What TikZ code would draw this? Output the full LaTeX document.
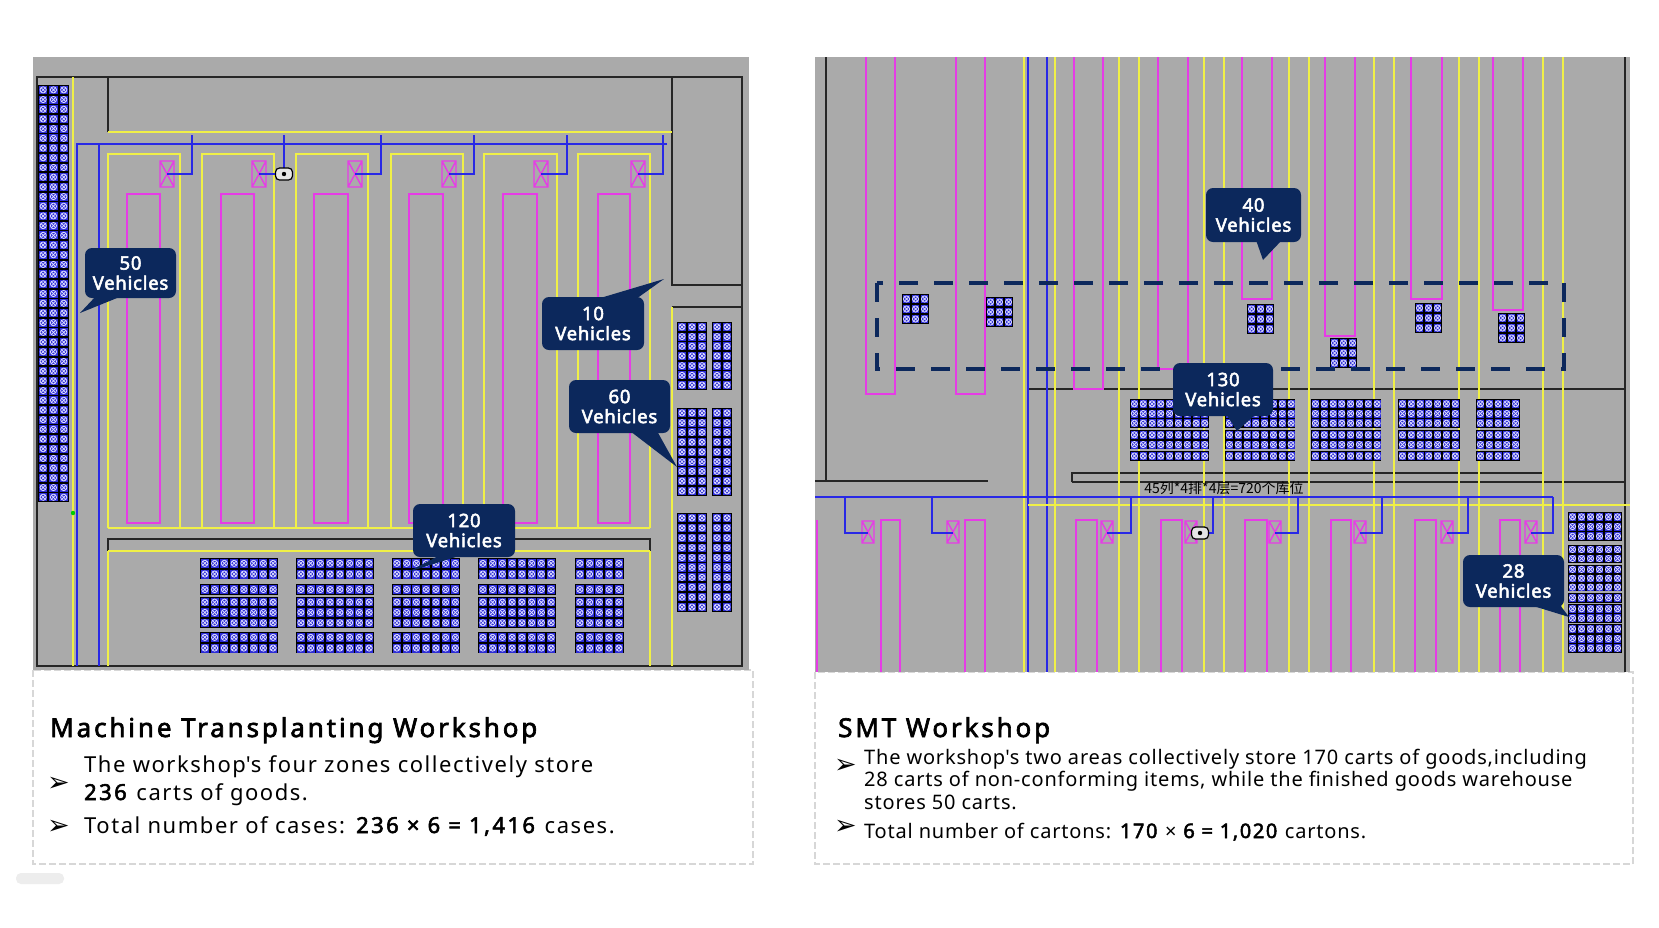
\documentclass[tikz,border=0pt]{standalone}
\usepackage{fontspec}
\setmainfont{Noto Sans}
\newfontfamily\bodyL[LetterSpace=7,BoldFont={Noto Sans},BoldFeatures={FakeBold=2.5,LetterSpace=11}]{Noto Sans}
\newfontfamily\bodyR[LetterSpace=4,BoldFont={Noto Sans},BoldFeatures={FakeBold=2.5,LetterSpace=8}]{Noto Sans}
\newfontfamily\titlef[LetterSpace=11,FakeBold=2.5]{Noto Sans}
\newfontfamily\tagf[LetterSpace=4,FakeBold=2.8]{Noto Sans}
\newfontfamily\cjkf{Noto Sans CJK SC}
\newfontfamily\dejavu{DejaVu Sans}
\definecolor{panel}{RGB}{170,170,170}
\definecolor{ylw}{RGB}{240,240,70}
\definecolor{mag}{RGB}{230,60,230}
\definecolor{blu}{RGB}{40,40,230}
\definecolor{navy}{RGB}{12,40,92}
\definecolor{cellb}{RGB}{45,45,215}
\definecolor{ring}{RGB}{225,225,255}
\definecolor{boxgray}{RGB}{215,215,215}
% storage block: x0, y0, cols, rows, cell w, cell h
\newcommand\stor[6]{%
  \fill[black] (#1,#2) rectangle ({#1+#3*#5},{#2+#4*#6});
  \foreach \ci in {1,...,#3}{\foreach \rj in {1,...,#4}{%
    \pgfmathsetmacro\cx{#1+(\ci-0.5)*#5}%
    \pgfmathsetmacro\cy{#2+(\rj-0.5)*#6}%
    \fill[cellb] ({\cx-#5/2+0.9},{\cy-#6/2+0.9}) rectangle ({\cx+#5/2-0.9},{\cy+#6/2-0.9});
    \draw[ring,line width=0.75pt] (\cx,\cy) circle (3.1pt);
    \draw[ring,line width=0.7pt] ({\cx-2.1},{\cy-2.1})--({\cx+2.1},{\cy+2.1}) ({\cx-2.1},{\cy+2.1})--({\cx+2.1},{\cy-2.1});
  }}}
\tikzset{
  yline/.style={draw=ylw,line width=1.4pt},
  mline/.style={draw=mag,line width=1.4pt},
  bline/.style={draw=blu,line width=1.4pt},
  kline/.style={draw=black!85,line width=1.4pt},
  tagbox/.style={fill=navy,text=white,rounded corners=7pt,align=center,inner sep=0pt,
    font=\tagf\fontsize{18.5}{20}\selectfont},
  device/.style={draw=black,line width=1.2pt,fill=black!10,rounded corners=4pt,
    minimum width=17pt,minimum height=12pt,inner sep=0pt},
  boxline/.style={draw=boxgray,line width=1.5pt,dash pattern=on 7pt off 3pt},
  txt/.style={anchor=base west,inner sep=0pt},
  bullet/.style={anchor=west,inner sep=0pt,font=\dejavu\fontsize{27}{27}\selectfont}
}
\begin{document}
\begin{tikzpicture}[x=1pt,y=-1pt]
\useasboundingbox (0,0) rectangle (1659,927);
\fill[white] (0,0) rectangle (1659,927);
\fill[black!7,rounded corners=5pt] (16,873) rectangle (64,884);

% ---------- text boxes ----------
\draw[boxline] (33,670) rectangle (753,864);
\draw[boxline] (815,672) rectangle (1633,864);

% ================= LEFT PANEL =================
\fill[panel] (33,57) rectangle (749,670);
\draw[kline] (37,77) rectangle (742,666);
\draw[kline] (108,77)--(108,132);
\draw[kline] (672,77)--(672,285)--(742,285);
\draw[kline] (672,307)--(742,307);
\draw[yline] (108,132)--(672,132);
\draw[yline] (73,77)--(73,666);
\draw[yline] (672,307)--(672,666);
\draw[bline] (77,666)--(77,144)--(667,144);
\draw[bline] (99,144)--(99,666);
\foreach \l/\r in {108/180,202/274,296/368,391/463,484/557,578/650}
  \draw[yline] (\l,528)--(\l,154)--(\r,154)--(\r,528);
\draw[yline] (108,528)--(650,528);
\foreach \l/\r in {127/160,221/254,314/348,409/443,503/537,598/630}
  \draw[mline] (\l,194) rectangle (\r,523);
\foreach \bx/\dx in {160/192,252/284,348/381,442/474,534/567,631/663}{
  \draw[mline] (\bx,161) rectangle (\bx+14,187) (\bx,161)--(\bx+14,187) (\bx+14,161)--(\bx,187);
  \draw[bline] (\dx,135)--(\dx,174)--(\bx+7,174);
}
\node[device] (dev1) at (284,174) {};
\fill[black] (dev1.center) circle (2.2pt);
\draw[kline] (108,551)--(108,539)--(650,539)--(650,551);
\draw[yline] (108,551)--(650,551);
\draw[yline] (108,551)--(108,666);
\draw[yline] (650,551)--(650,666);
% storage
\stor{38}{85}{3}{43}{10.3}{9.7}
\foreach \xo/\nc in {200/8,296/8,392/7,478/8,575/5}{
  \stor{\xo}{558}{\nc}{2}{9.75}{10.7}
  \stor{\xo}{584}{\nc}{1}{9.75}{11}
  \stor{\xo}{597}{\nc}{3}{9.75}{10.3}
  \stor{\xo}{632}{\nc}{2}{9.75}{10.7}
}
\stor{677}{322}{3}{7}{10}{9.7}
\stor{712}{322}{2}{7}{10}{9.7}
\stor{677}{408}{3}{9}{10}{9.75}
\stor{712}{408}{2}{9}{10}{9.75}
\stor{677}{513}{3}{10}{10}{9.9}
\stor{712}{513}{2}{10}{10}{9.9}
\fill[green!80!black] (73,513) circle (2.2pt);

% callouts left
\node[tagbox,minimum width=91pt,minimum height=50pt] (c50) at (130.5,273) {50\\Vehicles};
\coordinate (p50) at (80,313);
\fill[navy] (96,296)--(122,296)--(p50)--cycle;
\node[tagbox,minimum width=102pt,minimum height=53pt] (c10) at (593,323.5) {10\\Vehicles};
\coordinate (p10) at (664,279);
\fill[navy] (597,299)--(636,299)--(p10)--cycle;
\node[tagbox,minimum width=101pt,minimum height=53pt] (c60) at (619.5,406.5) {60\\Vehicles};
\coordinate (p60) at (677,467);
\fill[navy] (630,431)--(657,431)--(p60)--cycle;
\node[tagbox,minimum width=102pt,minimum height=53pt] (c120) at (464,530.5) {120\\Vehicles};
\coordinate (p120) at (408,572);
\fill[navy] (440,555)--(462,555)--(p120)--cycle;

% ================= RIGHT PANEL =================
\fill[panel] (815,57) rectangle (1630,672);
\draw[kline] (826,57)--(826,481)--(815,481);
\draw[kline] (826,481)--(988,481);
\draw[kline] (1625,57)--(1625,672);
\draw[kline] (1028,389)--(1625,389);
\draw[kline] (1072,482)--(1072,473)--(1543,473);
\draw[kline] (1072,482)--(1625,482);
\foreach \x in {1024,1055,1119,1139,1204,1224,1289,1309,1374,1394,1459,1479,1543,1563}
  \draw[yline] (\x,57)--(\x,672);
\draw[bline] (1028,57)--(1028,672);
\draw[bline] (1047,57)--(1047,672);
\draw[bline] (815,497)--(1553,497);
\draw[yline] (1028,505)--(1630,505);
% upper magenta
\foreach \l/\r/\b in {866/895/394,956/985/394,1074/1103/389,1158/1188/369,1242/1272/299,1325/1355/336,1411/1442/299,1493/1523/310}
  \draw[mline] (\l,57)--(\l,\b)--(\r,\b)--(\r,57);
% lower magenta
\draw[mline] (817,520)--(817,672);
\foreach \l/\r in {881/900,965/985,1076/1097,1161/1182,1245/1267,1331/1351,1415/1436,1500/1520}
  \draw[mline] (\l,672)--(\l,520)--(\r,520)--(\r,672);
\foreach \bx/\dx in {862/845,947/932,1101/1131,1185/1213,1269/1298,1354/1382,1441/1468,1525/1553}{
  \draw[mline] (\bx,521) rectangle (\bx+12,543) (\bx,521)--(\bx+12,543) (\bx+12,521)--(\bx,543);
  \draw[bline] (\dx,497)--(\dx,533)--(\bx+6,533);
}
\node[device] (dev2) at (1200,533) {};
\fill[black] (dev2.center) circle (2.2pt);
% upper small blocks
\stor{902}{294}{3}{3}{9}{10}
\stor{986}{297}{3}{3}{9}{10}
\stor{1247}{304}{3}{3}{9}{10}
\stor{1330}{338}{3}{3}{9}{10}
\stor{1415}{303}{3}{3}{9}{10}
\stor{1498}{313}{3}{3}{9}{10}
% dashed region
\draw[navy,line width=4pt,dash pattern=on 19pt off 16pt] (877,283) rectangle (1564,369);
% middle blocks
\foreach \xo/\nc in {1130/9,1225/8,1311/8,1398/7,1476/5}{
  \stor{\xo}{399}{\nc}{3}{8.8}{9.7}
  \stor{\xo}{430}{\nc}{2}{8.8}{9.7}
  \stor{\xo}{451}{\nc}{1}{8.8}{10}
}
% right bottom
\stor{1568}{512}{6}{3}{9}{9.7}
\stor{1568}{545}{6}{2}{9}{9}
\stor{1568}{565}{6}{3}{9}{8.8}
\stor{1568}{593}{6}{1}{9}{9.5}
\stor{1568}{604}{6}{2}{9}{9.5}
\stor{1568}{624}{6}{3}{9}{9.7}
\node[font=\cjkf\fontsize{14}{14}\selectfont,text=black,inner sep=0pt] (lbl) at (1224,488) {45列*4排*4层=720个库位};

% callouts right
\node[tagbox,minimum width=95pt,minimum height=54pt] (c40) at (1253.5,215) {40\\Vehicles};
\coordinate (p40) at (1263,260);
\fill[navy] (1256,240)--(1282,240)--(p40)--cycle;
\node[tagbox,minimum width=100pt,minimum height=53pt] (c130) at (1223,389.5) {130\\Vehicles};
\coordinate (p130) at (1237,431);
\fill[navy] (1226,414)--(1256,414)--(p130)--cycle;
\node[tagbox,minimum width=101pt,minimum height=52pt] (c28) at (1513.5,581) {28\\Vehicles};
\coordinate (p28) at (1569,617);
\fill[navy] (1530,605)--(1560,605)--(p28)--cycle;

% ================= TEXT =================
\node[txt,font=\titlef\fontsize{26}{30}\selectfont] (t1) at (50,737) {Machine Transplanting Workshop};
\node[bullet] (b1) at (47,784) {➢};
\node[txt,font=\bodyL\fontsize{22}{28}\selectfont] (l1) at (84,772) {The workshop\textquotesingle s four zones collectively store};
\node[txt,font=\bodyL\fontsize{22}{28}\selectfont] (l2) at (84,800) {\textbf{236} carts of goods.};
\node[bullet] (b2) at (47,827) {➢};
\node[txt,font=\bodyL\fontsize{22}{28}\selectfont] (l3) at (84,833) {Total number of cases: \textbf{236 × 6 = 1,416} cases.};

\node[txt,font=\titlef\fontsize{26}{30}\selectfont] (t2) at (838,737) {SMT Workshop};
\node[bullet] (b3) at (834,766) {➢};
\node[txt,font=\bodyR\fontsize{20}{24}\selectfont] (r1) at (864,764) {The workshop\textquotesingle s two areas collectively store 170 carts of goods,including};
\node[txt,font=\bodyR\fontsize{20}{24}\selectfont] (r2) at (864,786) {28 carts of non-conforming items, while the finished goods warehouse};
\node[txt,font=\bodyR\fontsize{20}{24}\selectfont] (r3) at (864,809) {stores 50 carts.};
\node[bullet] (b4) at (834,827) {➢};
\node[txt,font=\bodyR\fontsize{20}{24}\selectfont] (r4) at (864,838) {Total number of cartons: \textbf{170} × \textbf{6 = 1,020} cartons.};
\end{tikzpicture}
\end{document}
